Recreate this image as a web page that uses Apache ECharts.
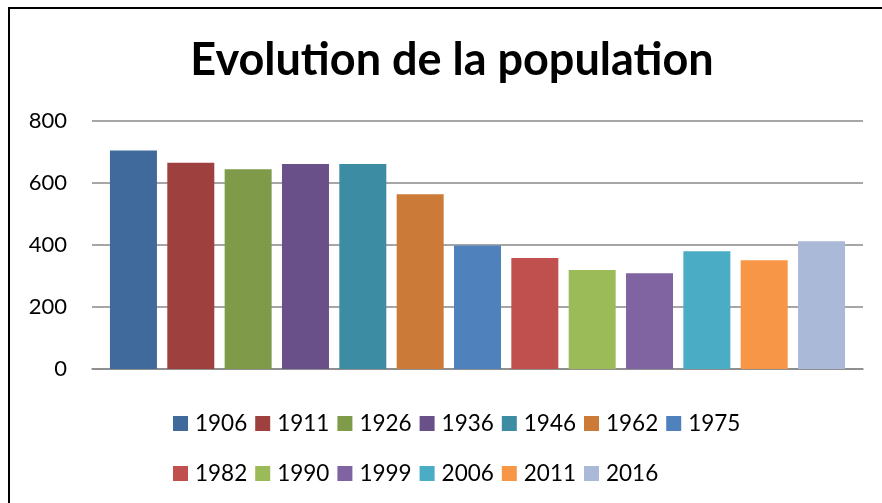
<!DOCTYPE html>
<html>
<head>
<meta charset="utf-8">
<script src="https://cdn.jsdelivr.net/npm/echarts@6/dist/echarts.min.js"></script>
<style>
  html, body { margin: 0; padding: 0; background: #fff; }
  #chart { width: 882px; height: 503px; }
</style>
</head>
<body>
<div id="chart"></div>
<script>
// années (une série par année, comme dans Excel)
var years = ['1906', '1911', '1926', '1936', '1946', '1962', '1975',
             '1982', '1990', '1999', '2006', '2011', '2016'];
var population = [705, 665, 644, 661, 661, 564, 398,
                  358, 319, 309, 380, 351, 412];
var colors = ['#416A9C', '#9E403E', '#7F9A48', '#6A5089', '#3C8CA4', '#CB7A37', '#4F81BD',
              '#C0504D', '#9BBB59', '#8064A2', '#4BACC6', '#F79646', '#AAB9D7'];

var chart = echarts.init(document.getElementById('chart'));

var series = years.map(function (y, i) {
  return {
    name: y,
    type: 'bar',
    data: [population[i]],
    barWidth: 47,
    barGap: '22%',
    itemStyle: { color: colors[i] }
  };
});

var legendCommon = {
  left: 168,
  icon: 'rect',
  itemWidth: 15,
  itemHeight: 15,
  itemGap: 8,
  textStyle: { fontFamily: 'Lato', fontSize: 22.5, color: '#000', padding: [0, 0, 0, 2] }
};

chart.setOption({
  animation: false,
  color: colors,
  title: {
    text: 'Evolution de la population',
    left: 447,
    top: 33,
    textAlign: 'center',
    textStyle: { fontFamily: 'Lato', fontWeight: 'bold', fontSize: 45, color: '#000' }
  },
  legend: [
    Object.assign({ top: 407, data: years.slice(0, 7) }, legendCommon),
    Object.assign({ top: 457, data: years.slice(7) }, legendCommon)
  ],
  grid: { left: 92, right: 19, top: 121, bottom: 134 },
  xAxis: {
    type: 'category',
    data: [''],
    axisLine: { lineStyle: { color: '#888', width: 1.5 } },
    axisTick: { show: false },
    axisLabel: { show: false }
  },
  yAxis: {
    type: 'value',
    min: 0,
    max: 800,
    interval: 200,
    axisLine: { show: false },
    axisTick: { show: false },
    axisLabel: { margin: 25, fontFamily: 'Lato', fontSize: 22, color: '#000' },
    splitLine: { lineStyle: { color: '#888', width: 1.5 } }
  },
  graphic: [{
    type: 'rect',
    shape: { x: 9, y: 8, width: 900, height: 520 },
    style: { fill: 'none', stroke: '#000', lineWidth: 2 },
    silent: true
  }],
  series: series
});
</script>
</body>
</html>
